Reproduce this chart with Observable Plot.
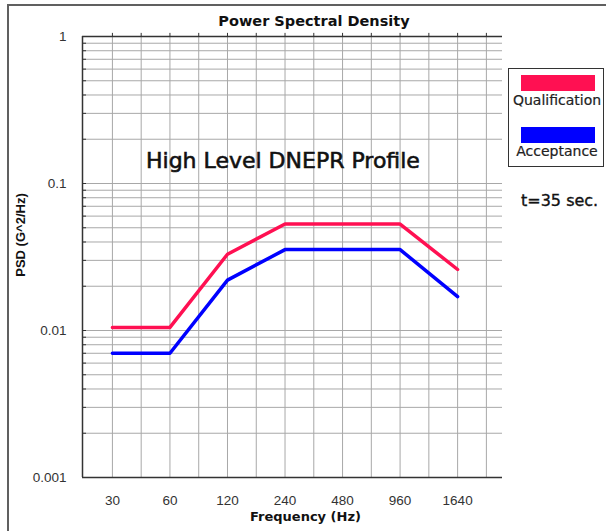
<!DOCTYPE html>
<html>
<head>
<meta charset="utf-8">
<script src="https://cdn.jsdelivr.net/npm/d3@7"></script>
<script src="https://cdn.jsdelivr.net/npm/@observablehq/plot@0.6"></script>
<style>
  html, body { margin: 0; padding: 0; background: #fff; }
  #wrap { position: relative; width: 606px; height: 531px; overflow: hidden; background: #fff; }
  #chart { position: absolute; left: 0; top: 0; }
  .abs { position: absolute; white-space: nowrap; color: #111; }
  #frame { position: absolute; left: 7px; top: 4px; width: 800px; height: 800px;
           border-left: 2px solid #606060; border-top: 2px solid #606060; }
</style>
</head>
<body>
<div id="wrap">
  <div id="chart"></div>
  <div id="frame"></div>
  <div class="abs" id="title" style="left:0;width:628px;top:13px;text-align:center;font:bold 14.5px 'DejaVu Sans';">Power Spectral Density</div>
  <div class="abs" style="left:146px;top:148px;font:22px 'DejaVu Sans';-webkit-text-stroke:0.6px #111;">High Level DNEPR Profile</div>
  <div class="abs" style="left:521px;top:191px;font:16px 'DejaVu Sans';-webkit-text-stroke:0.35px #111;">t=35 sec.</div>
  <div class="abs" style="left:508px;top:68px;width:94px;height:97px;border:1.5px solid #333;"></div>
  <div class="abs" id="leg1" style="left:521px;top:75px;width:74px;height:16px;"></div>
  <div class="abs" style="left:498px;width:118px;top:92px;text-align:center;font:14px 'DejaVu Sans';-webkit-text-stroke:0.2px #222;color:#222;">Qualification</div>
  <div class="abs" id="leg2" style="left:521px;top:127px;width:74px;height:16px;"></div>
  <div class="abs" style="left:498px;width:118px;top:143px;text-align:center;font:14px 'DejaVu Sans';-webkit-text-stroke:0.2px #222;color:#222;">Acceptance</div>
  <div class="abs" style="left:250px;width:110px;top:509px;text-align:center;font:bold 13px 'DejaVu Sans';">Frequency (Hz)</div>
  <div class="abs" style="left:20px;top:235px;transform:translate(-50%,-50%) rotate(-90deg);font:bold 13px 'Liberation Sans';">PSD (G^2/Hz)</div>
</div>
<script>
// ---- data ----
const freqLabels = ["30", "60", "120", "240", "480", "960", "1640"];
const qualification = [0.0105, 0.0105, 0.033, 0.053, 0.053, 0.053, 0.026];
const acceptance = [0.007, 0.007, 0.022, 0.0355, 0.0355, 0.0355, 0.017];
const seriesNames = ["Qualification", "Acceptance"];
const seriesColors = ["#ff1052", "#0000ff"];
const yTickValues = [1, 0.1, 0.01, 0.001];

// ---- derived tables ----
const rows = [];
freqLabels.forEach((f, i) => {
  rows.push({i, freq: f, psd: qualification[i], series: seriesNames[0]});
});
freqLabels.forEach((f, i) => {
  rows.push({i, freq: f, psd: acceptance[i], series: seriesNames[1]});
});
const xMin = -0.52, xMax = 6.78;
const halfSteps = d3.range(0, 7, 0.5); // vertical grid every half octave
const minorY = [];
[0.001, 0.01, 0.1].forEach(dec => { for (let k = 1; k <= 9; k++) minorY.push(dec * k); });
minorY.push(1);

document.getElementById("leg1").style.background = seriesColors[0];
document.getElementById("leg2").style.background = seriesColors[1];

const chart = Plot.plot({
  width: 606,
  height: 531,
  marginLeft: 82,
  marginRight: 104,
  marginTop: 36,
  marginBottom: 54,
  style: {background: "transparent", fontFamily: "'Liberation Sans', Arial, sans-serif", fontSize: "13.5px", color: "#333"},
  x: {type: "linear", domain: [xMin, xMax]},
  y: {type: "log", domain: [0.001, 1]},
  color: {domain: seriesNames, range: seriesColors},
  marks: [
    Plot.ruleY(minorY, {y: d => d, stroke: "#a8a8a8", strokeWidth: 1}),
    Plot.ruleX(halfSteps, {x: d => d, y1: 0.001, y2: 1, stroke: "#a8a8a8", strokeWidth: 1}),
    Plot.ruleX(halfSteps, {x: d => d, y1: 1, y2: 1.05, stroke: "#333", strokeWidth: 1}),
    Plot.ruleY(minorY, {y: d => d, x1: xMin, x2: xMin + 0.07, stroke: "#333", strokeWidth: 1}),
    Plot.ruleX([xMin], {y1: 0.001, y2: 1, stroke: "#333", strokeWidth: 1.5}),
    Plot.ruleY([0.001, 1], {stroke: "#333", strokeWidth: 1.5}),
    Plot.line(rows, {x: "i", y: "psd", z: "series", stroke: "series", strokeWidth: 3.5, strokeLinejoin: "round"}),
    Plot.axisY({ticks: yTickValues, tickFormat: d => String(d), tickSize: 0, tickPadding: 16, label: null, fontSize: 13.5}),
    Plot.axisX({ticks: d3.range(freqLabels.length), tickFormat: i => freqLabels[i], tickSize: 0, tickPadding: 18, label: null, fontSize: 13.5})
  ]
});
document.getElementById("chart").appendChild(chart);
</script>
</body>
</html>
